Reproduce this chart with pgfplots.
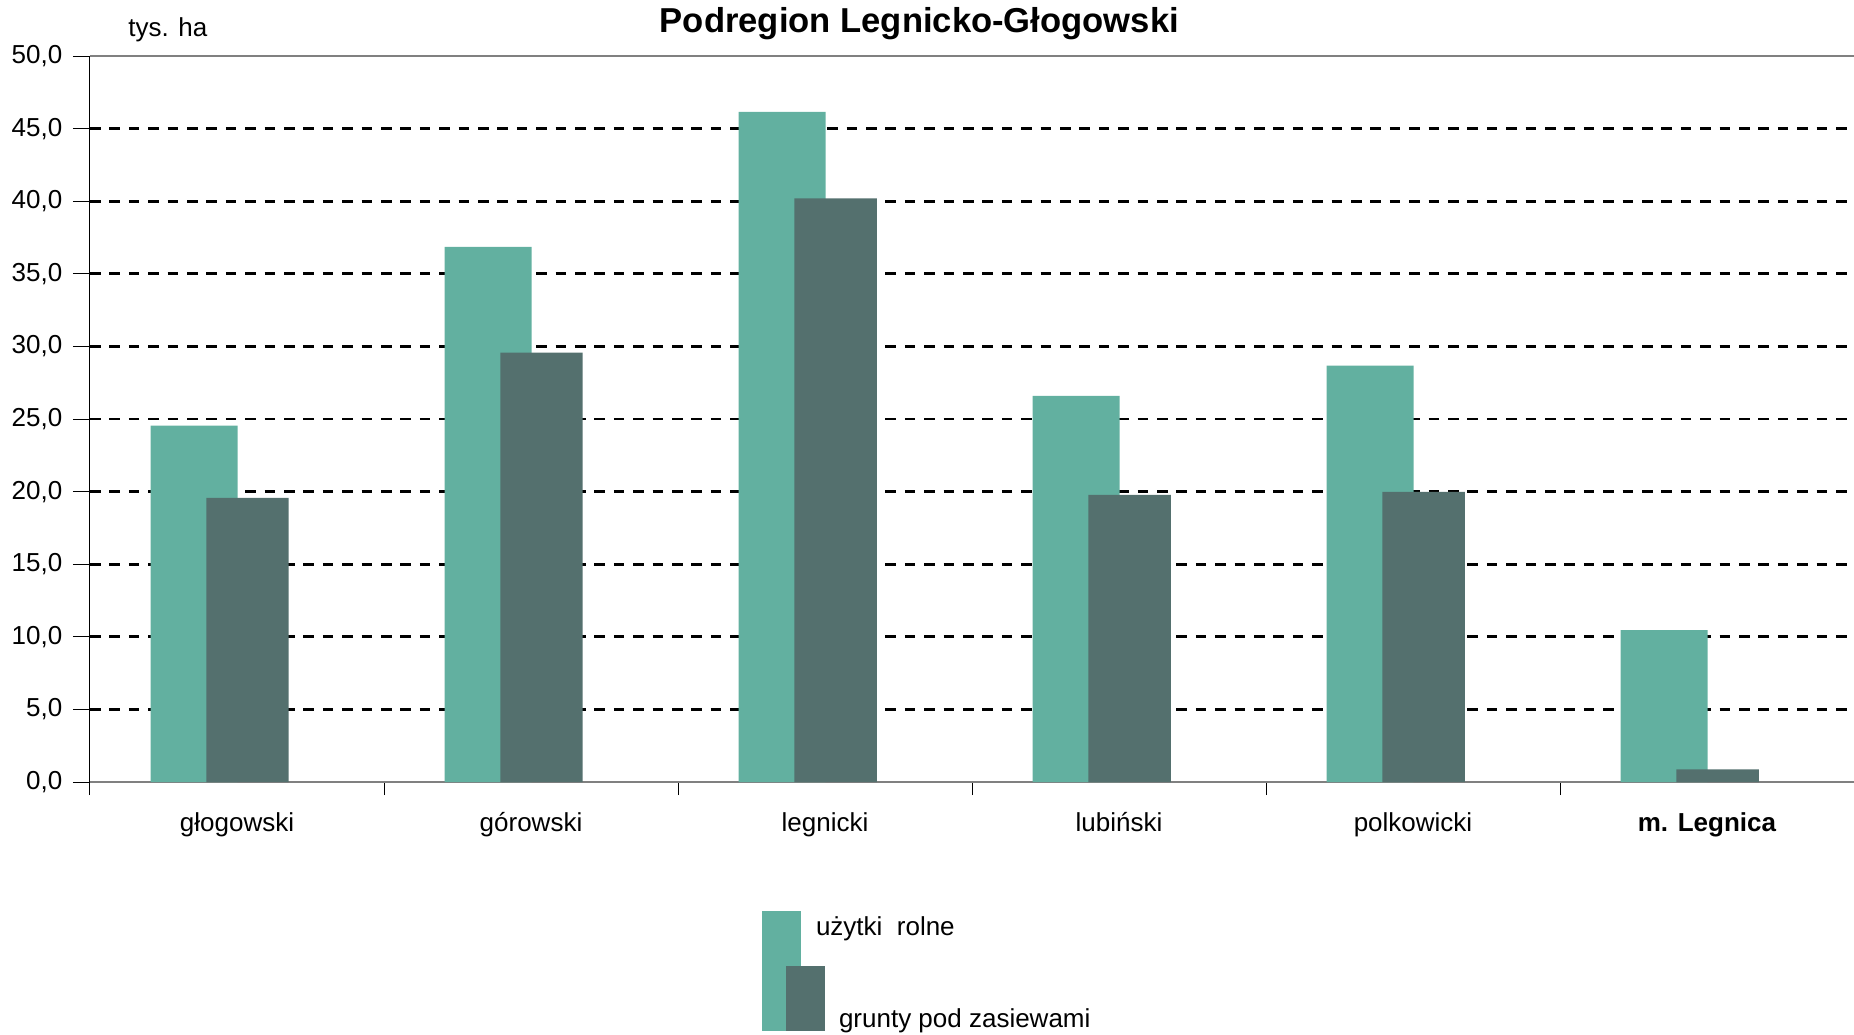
\documentclass[border=0pt]{standalone}
\usepackage{fontspec}
\setmainfont{Liberation Sans}
\usepackage{pgfplots}
\pgfplotsset{compat=1.18}
\definecolor{cA}{RGB}{98,176,160}
\definecolor{cB}{RGB}{84,112,110}
\begin{document}
\begin{tikzpicture}
\begin{axis}[
  name=ax,
  scale only axis, width=882pt, height=363pt,
  xmin=-0.5, xmax=5.5, ymin=0, ymax=50,
  ybar=0pt,
  axis x line*=bottom, axis y line*=left,
  x axis line style={gray, line width=0.8pt, -},
  y axis line style={black, line width=0.5pt, -},
  font=\fontsize{13}{15}\selectfont,
  xtick={0,...,5},
  xticklabels={głogowski,górowski,legnicki,lubiński,polkowicki,\textbf{m. Legnica}},
  major x tick style={draw=none},
  minor xtick={-0.5,0.5,...,5.5},
  minor x tick style={black, line width=0.5pt},
  minor tick length=6.5pt,
  major tick length=8.5pt,
  tick align=outside,
  xticklabel style={anchor=base, yshift=-16pt},
  ytick={5,10,...,45},
  extra y ticks={0,50},
  extra y tick style={major grid style={solid, gray, line width=0.6pt}},
  y tick style={black, line width=0.5pt},
  yticklabel style={xshift=-1.8pt},
  ymajorgrids,
  major grid style={black, dash pattern=on 5.3pt off 4.4pt, line width=1.35pt},
  y tick label style={/pgf/number format/.cd, fixed, fixed zerofill, precision=1, use comma, assume math mode=true},
  legend style={draw=none, fill=none, at={(rel axis cs:0,0)}, anchor=north west, xshift=333pt, yshift=-58.1pt, row sep=30.9pt, font=\fontsize{13}{15}\selectfont},
  legend cell align=left,
]
\addplot[fill=cA, draw=none, bar width=0.296, bar shift=-0.146,
  legend image code/.code={\fill[cA, overlay] (0pt,-51.6pt) rectangle (19.5pt,8.4pt); \fill[cB, overlay] (12pt,-51.6pt) rectangle (31.5pt,-19.1pt); \path[draw=none, fill=none] (0pt,-2pt) rectangle (19.5pt,12.5pt);}]
  coordinates {(0,24.54) (1,36.85) (2,46.15) (3,26.6) (4,28.67) (5,10.46)};
\addlegendentry{\hspace{5.3pt}użytki\ \ rolne}
\addplot[fill=cB, draw=none, bar width=0.28, bar shift=0.036,
  legend image code/.code={\path[draw=none, fill=none] (0pt,0pt) rectangle (19.5pt,1pt);}]
  coordinates {(0,19.57) (1,29.57) (2,40.19) (3,19.77) (4,19.98) (5,0.87)};
\addlegendentry{\hspace{16.8pt}grunty pod zasiewami}
\end{axis}
\node[anchor=base, font=\bfseries\fontsize{17.3}{20}\selectfont] at ([xshift=414.7pt, yshift=11.5pt]ax.north west) {Podregion Legnicko-Głogowski};
\node[anchor=base west, inner sep=0pt, font=\fontsize{13}{15}\selectfont] at ([xshift=19pt, yshift=9.8pt]ax.north west) {tys. ha};
\pgfresetboundingbox
\path ([xshift=-45pt,yshift=-126pt]ax.south west) rectangle ([yshift=28pt]ax.north east);
\end{tikzpicture}
\end{document}
